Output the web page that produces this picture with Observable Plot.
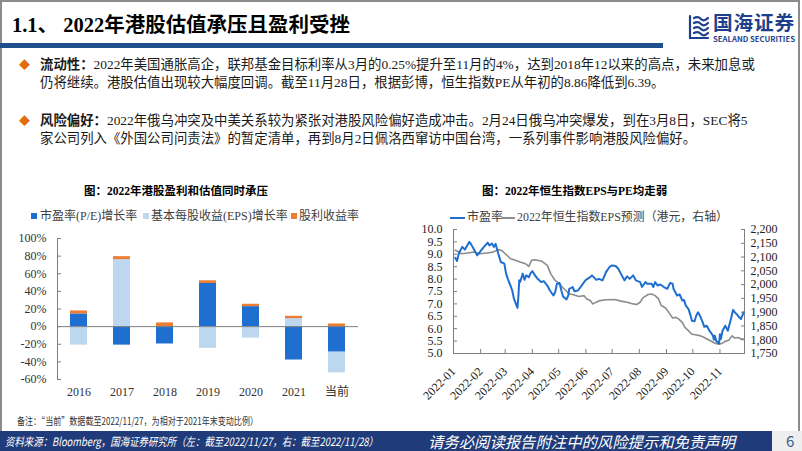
<!DOCTYPE html>
<html><head><meta charset="utf-8">
<script src="https://cdn.jsdelivr.net/npm/d3@7"></script>
<script src="https://cdn.jsdelivr.net/npm/@observablehq/plot@0.6"></script>
<style>
html,body{margin:0;padding:0;background:#fff;}
#slide{position:relative;width:802px;height:451px;overflow:hidden;background:#fff;color:#1a1a1a;font-family:"Liberation Serif","Noto Sans CJK SC",serif;}
.a{position:absolute;white-space:nowrap;}
.sans{font-family:"Noto Sans CJK SC","Liberation Sans",sans-serif;}
.para{font-size:13.4px;line-height:18px;color:#1a1a1a;}
.leg{font-size:12px;line-height:16px;color:#404040;}
</style></head><body>
<div id="slide">
  <div class="a" style="left:0;top:0;width:800px;height:432px;border:2px solid #8c8c8c;border-bottom:none;box-sizing:border-box"></div>
  <div class="a" id="title" style="left:12px;top:12px;font-size:20px;line-height:26px;font-weight:bold;color:#000">1.1、 2022年港股估值承压且盈利受挫</div>
  <div class="a" style="left:0;top:43px;width:663px;height:5px;background:#1f4e8d"></div>
  <svg class="a" style="left:688px;top:14px" width="22" height="26" viewBox="0 0 22 26">
    <g fill="none" stroke="#1e3f8c" stroke-width="2.2" stroke-linecap="round">
      <path d="M2,2 L2,24"/>
      <path d="M6,4 Q10,2 13,5 T20,4"/>
      <path d="M6,9 Q10,7 13,10 T20,9"/>
      <path d="M6,14 Q10,12 13,15 T20,14"/>
      <path d="M6,19 Q10,17 13,20 T20,19"/>
      <path d="M2,24 L20,24"/>
    </g>
  </svg>
  <div class="a sans" id="logoCn" style="left:713px;top:12px;font-size:19px;line-height:20px;font-weight:bold;color:#1e3f8c;letter-spacing:0.8px">国海证券</div>
  <div class="a sans" id="logoEn" style="left:713px;top:35px;font-size:7px;line-height:8px;font-weight:bold;color:#1e3f8c">SEALAND SECURITIES</div>

  <div class="a" style="left:19px;top:57px;color:#e46c0a;font-size:11px;line-height:16px">◆</div>
  <div class="a para" style="left:40px;top:56px;"><b>流动性：</b>2022年美国通胀高企，联邦基金目标利率从3月的0.25%提升至11月的4%，达到2018年12以来的高点，未来加息或<br>仍将继续。港股估值出现较大幅度回调。截至11月28日，根据彭博，恒生指数PE从年初的8.86降低到6.39。</div>
  <div class="a" style="left:19px;top:113px;color:#e46c0a;font-size:11px;line-height:16px">◆</div>
  <div class="a para" style="left:40px;top:112px;"><b>风险偏好：</b>2022年俄乌冲突及中美关系较为紧张对港股风险偏好造成冲击。2月24日俄乌冲突爆发，到在3月8日，SEC将5<br>家公司列入《外国公司问责法》的暂定清单，再到8月2日佩洛西窜访中国台湾，一系列事件影响港股风险偏好。</div>

  <div class="a" style="left:84px;top:183px;font-size:11.5px;line-height:16px;font-weight:bold;color:#000">图：2022年港股盈利和估值同时承压</div>
  <div class="a" style="left:31px;top:213px;width:6px;height:6px;background:#1f6fd1"></div>
  <div class="a leg" style="left:40px;top:208px">市盈率(P/E)增长率</div>
  <div class="a" style="left:143px;top:213px;width:6px;height:6px;background:#bdd7ee"></div>
  <div class="a leg" style="left:151px;top:208px">基本每股收益(EPS)增长率</div>
  <div class="a" style="left:291px;top:213px;width:6px;height:6px;background:#ed7d31"></div>
  <div class="a leg" style="left:299px;top:208px">股利收益率</div>

  <div class="a" style="left:482px;top:183px;font-size:11.5px;line-height:16px;font-weight:bold;color:#000">图：2022年恒生指数EPS与PE均走弱</div>
  <div class="a" style="left:450px;top:216.5px;width:15px;height:2px;background:#1f6fd1"></div>
  <div class="a leg" style="left:467px;top:209px">市盈率</div>
  <div class="a" style="left:502px;top:217px;width:13px;height:1.5px;background:#8c8c8c"></div>
  <div class="a leg" id="leg2" style="left:517px;top:209px">2022年恒生指数EPS预测（港元，右轴）</div>

  <div id="bar" class="a" style="left:0;top:228px"></div>
  <div id="lineR" class="a" style="left:400px;top:220px"></div>
  <div id="lineL" class="a" style="left:400px;top:220px"></div>

  <div class="a sans" id="note" style="left:17px;top:414px;font-size:10.5px;line-height:14px;color:#333">备注：“当前”数据截至2022/11/27，为相对于2021年末变动比例）</div>
  <div class="a" style="left:0;top:431px;width:772px;height:20px;background:#1f3b7a"></div>
  <div class="a" style="left:772px;top:431px;width:30px;height:20px;background:#eeeeee"></div>
  <div class="a sans" id="src" style="left:5px;top:433px;font-size:11.5px;line-height:16px;color:#fff;font-style:italic">资料来源：Bloomberg，国海证券研究所（左：截至2022/11/27，右：截至2022/11/28）</div>
  <div class="a sans" id="disc" style="left:428px;top:433px;font-size:15.5px;line-height:16px;color:#fff;font-style:italic">请务必阅读报告附注中的风险提示和免责声明</div>
  <div class="a sans" style="left:786px;top:432px;font-size:15px;line-height:18px;color:#3d5a8c">6</div>
</div>
<script>
// ---- Bar chart data (percent) ----
const categories = ["2016","2017","2018","2019","2020","2021","当前"];
const seriesNames = ["市盈率(P/E)增长率","基本每股收益(EPS)增长率","股利收益率"];
const peGrowth  = [14.4, -21, -19.7, 49, 22.7, -37.9, -29];
const epsGrowth = [-21, 76, 0, -24.6, -13, 9, -23.5];
const dividend  = [3.4, 3.4, 4.2, 3, 2.7, 2.7, 3];
const barTicks = [-60,-40,-20,0,20,40,60,80,100];

// ---- Line chart data ----
const peDates = ["2022-01-03","2022-01-05","2022-01-07","2022-01-11","2022-01-14","2022-01-19","2022-01-21","2022-01-26","2022-01-28","2022-01-31",
"2022-02-04","2022-02-09","2022-02-11","2022-02-14","2022-02-16","2022-02-18","2022-02-21","2022-02-24","2022-02-28",
"2022-03-02","2022-03-04","2022-03-07","2022-03-09","2022-03-11","2022-03-15","2022-03-16","2022-03-17","2022-03-18","2022-03-21","2022-03-23","2022-03-25","2022-03-28","2022-03-30",
"2022-04-01","2022-04-04","2022-04-07","2022-04-11","2022-04-14","2022-04-18","2022-04-21","2022-04-25","2022-04-27","2022-04-29",
"2022-05-02","2022-05-04","2022-05-06","2022-05-10","2022-05-12","2022-05-13","2022-05-17","2022-05-19","2022-05-23","2022-05-26","2022-05-30",
"2022-06-01","2022-06-06","2022-06-08","2022-06-13","2022-06-16","2022-06-20","2022-06-22","2022-06-24","2022-06-28",
"2022-07-01","2022-07-05","2022-07-08","2022-07-12","2022-07-15","2022-07-18","2022-07-21","2022-07-25","2022-07-28",
"2022-08-02","2022-08-04","2022-08-08","2022-08-10","2022-08-15","2022-08-17","2022-08-19","2022-08-22","2022-08-25","2022-08-29",
"2022-09-02","2022-09-05","2022-09-08","2022-09-09","2022-09-13","2022-09-16","2022-09-19","2022-09-21","2022-09-23","2022-09-26","2022-09-28","2022-09-30",
"2022-10-03","2022-10-05","2022-10-07","2022-10-10","2022-10-13","2022-10-14","2022-10-17","2022-10-20","2022-10-24","2022-10-25","2022-10-26","2022-10-28","2022-10-31",
"2022-11-01","2022-11-02","2022-11-04","2022-11-07","2022-11-09","2022-11-10","2022-11-14","2022-11-16","2022-11-18","2022-11-21","2022-11-23","2022-11-25","2022-11-28"];
const peValues = [8.86,8.73,9.03,9.30,9.19,9.50,9.41,9.09,8.96,9.09,
9.27,9.47,9.36,9.43,9.30,9.42,9.03,8.69,8.62,
8.22,8.01,7.74,7.54,7.20,6.84,7.27,7.95,7.88,8.22,7.97,8.15,8.08,8.24,
8.32,8.15,8.01,7.88,7.92,7.74,7.54,7.34,7.47,7.81,
7.84,7.54,7.30,7.18,7.34,7.61,7.68,7.51,7.54,7.68,7.88,
7.97,8.08,8.15,7.97,8.01,7.95,8.11,8.28,8.49,
8.55,8.53,8.42,8.15,7.95,8.11,8.01,8.15,7.95,
7.88,7.68,7.88,7.81,7.81,7.68,7.88,7.74,7.78,7.68,
7.61,7.84,7.81,7.61,7.34,7.38,7.14,7.16,6.93,6.80,6.59,6.32,
6.30,6.53,6.66,6.46,6.19,6.08,6.12,5.92,5.72,5.55,5.72,5.49,5.41,
5.78,5.58,5.92,6.12,5.99,5.92,6.46,6.76,6.66,6.55,6.46,6.39,6.66];
const epsDates = ["2022-01-03","2022-01-05","2022-01-10","2022-01-17","2022-01-24","2022-01-31",
"2022-02-08","2022-02-15","2022-02-21","2022-02-25",
"2022-03-01","2022-03-07","2022-03-11","2022-03-18","2022-03-24","2022-03-28","2022-03-31",
"2022-04-04","2022-04-11","2022-04-13","2022-04-18","2022-04-22","2022-04-27",
"2022-05-02","2022-05-05","2022-05-10","2022-05-13","2022-05-17","2022-05-24","2022-05-30",
"2022-06-02","2022-06-06","2022-06-09","2022-06-14","2022-06-17","2022-06-24",
"2022-07-04","2022-07-11","2022-07-18","2022-07-25","2022-07-29",
"2022-08-02","2022-08-05","2022-08-11","2022-08-15","2022-08-19","2022-08-23","2022-08-26","2022-08-31",
"2022-09-05","2022-09-08","2022-09-12","2022-09-15","2022-09-19","2022-09-22","2022-09-26","2022-09-30",
"2022-10-04","2022-10-10","2022-10-14","2022-10-21","2022-10-27","2022-10-31",
"2022-11-03","2022-11-07","2022-11-11","2022-11-15","2022-11-18","2022-11-22","2022-11-25","2022-11-28"];
const epsValues = [2125,2122,2112,2115,2118,2112,
2115,2118,2127,2124,
2112,2094,2090,2082,2076,2066,2088,
2090,2086,2082,2070,2039,2015,
2003,1991,1976,1966,1964,1957,1960,
1948,1942,1930,1938,1942,1945,
1946,1940,1936,1930,1928,
1936,1952,1964,1966,1960,1948,1924,1915,
1893,1879,1881,1875,1863,1845,1833,1820,
1818,1814,1808,1796,1786,1784,
1786,1794,1798,1814,1806,1808,1802,1802];
const monthLabels = ["2022-01","2022-02","2022-03","2022-04","2022-05","2022-06","2022-07","2022-08","2022-09","2022-10","2022-11"];
const yLeftTicks = [5,5.5,6,6.5,7,7.5,8,8.5,9,9.5,10];
const yRightTicks = [1750,1800,1850,1900,1950,2000,2050,2100,2150,2200];

const font = '"Liberation Serif","Noto Sans CJK SC",serif';
const axisColor = "#7f7f7f";

// ---- Bar chart ----
const barData = categories.flatMap((c, i) => [
  {cat: c, series: seriesNames[0], v: peGrowth[i]},
  {cat: c, series: seriesNames[1], v: epsGrowth[i]},
  {cat: c, series: seriesNames[2], v: dividend[i]}
]);
const bar = Plot.plot({
  width: 400, height: 180, marginLeft: 57, marginRight: 42, marginTop: 10, marginBottom: 29,
  style: {background: "transparent", fontFamily: font, fontSize: "12px", color: "#333"},
  x: {domain: categories, paddingInner: 0.6, paddingOuter: 0.3, label: null},
  y: {domain: [-60, 100], label: null},
  color: {domain: seriesNames, range: ["#1f6fd1", "#bdd7ee", "#ed7d31"]},
  marks: [
    Plot.barY(barData, {x: "cat", y: "v", fill: "series"}),
    Plot.ruleY([0], {stroke: axisColor}),
    Plot.axisY(barTicks, {tickFormat: d => d + "%", tickSize: -4, tickPadding: 15, stroke: axisColor}),
    Plot.axisX({tickSize: 0, tickPadding: 8}),
    Plot.frame({anchor: "left", stroke: axisColor})
  ]
});
document.getElementById("bar").append(bar);

// ---- Line charts (dual axis as two overlaid plots) ----
const parse = d3.utcParse("%Y-%m-%d");
const parseM = d3.utcParse("%Y-%m");
const pe = peDates.map((d, i) => ({date: parse(d), v: peValues[i]}));
const eps = epsDates.map((d, i) => ({date: parse(d), v: epsValues[i]}));
const monthTicks = monthLabels.map(parseM);
const xDomain = [parse("2022-01-01"), parse("2022-11-29")];
const common = {
  width: 402, height: 190, marginLeft: 53, marginRight: 58, marginTop: 9, marginBottom: 57,
  style: {background: "transparent", fontFamily: font, fontSize: "12px", color: "#222"}
};
const right = Plot.plot({
  ...common,
  x: {type: "utc", domain: xDomain, axis: null},
  y: {domain: [1750, 2200], label: null},
  marks: [
    Plot.line(eps, {x: "date", y: "v", stroke: "#8c8c8c", strokeWidth: 1.6}),
    Plot.axisY(yRightTicks, {anchor: "right", tickFormat: d3.format(","), tickSize: -4, tickPadding: 10, stroke: axisColor}),
    Plot.frame({anchor: "right", stroke: axisColor})
  ]
});
document.getElementById("lineR").append(right);
const left = Plot.plot({
  ...common,
  x: {type: "utc", domain: xDomain, label: null},
  y: {domain: [5, 10], label: null},
  marks: [
    Plot.line(pe, {x: "date", y: "v", stroke: "#1f6fd1", strokeWidth: 2}),
    Plot.axisY(yLeftTicks, {anchor: "left", tickFormat: d3.format(".1f"), tickSize: -4, tickPadding: 15, stroke: axisColor}),
    Plot.axisX(monthTicks, {anchor: "bottom", tickFormat: d3.utcFormat("%Y-%m"), tickRotate: -45, tickSize: -4, tickPadding: 20, stroke: axisColor}),
    Plot.frame({anchor: "left", stroke: axisColor}),
    Plot.frame({anchor: "bottom", stroke: axisColor})
  ]
});
document.getElementById("lineL").append(left);

// ---- fit condensed texts ----
function fit(id, w) {
  const el = document.getElementById(id);
  el.style.transform = "none";
  const r = el.getBoundingClientRect().width;
  el.style.transformOrigin = "0 50%";
  el.style.transform = `scaleX(${w / r})`;
}
function fitAll() {
  fit("note", 241); fit("src", 373); fit("disc", 307); fit("logoEn", 82); fit("title", 338); fit("logoCn", 82); fit("leg2", 211);
}
fitAll();
if (document.fonts && document.fonts.ready) document.fonts.ready.then(fitAll);
</script>
</body></html>
